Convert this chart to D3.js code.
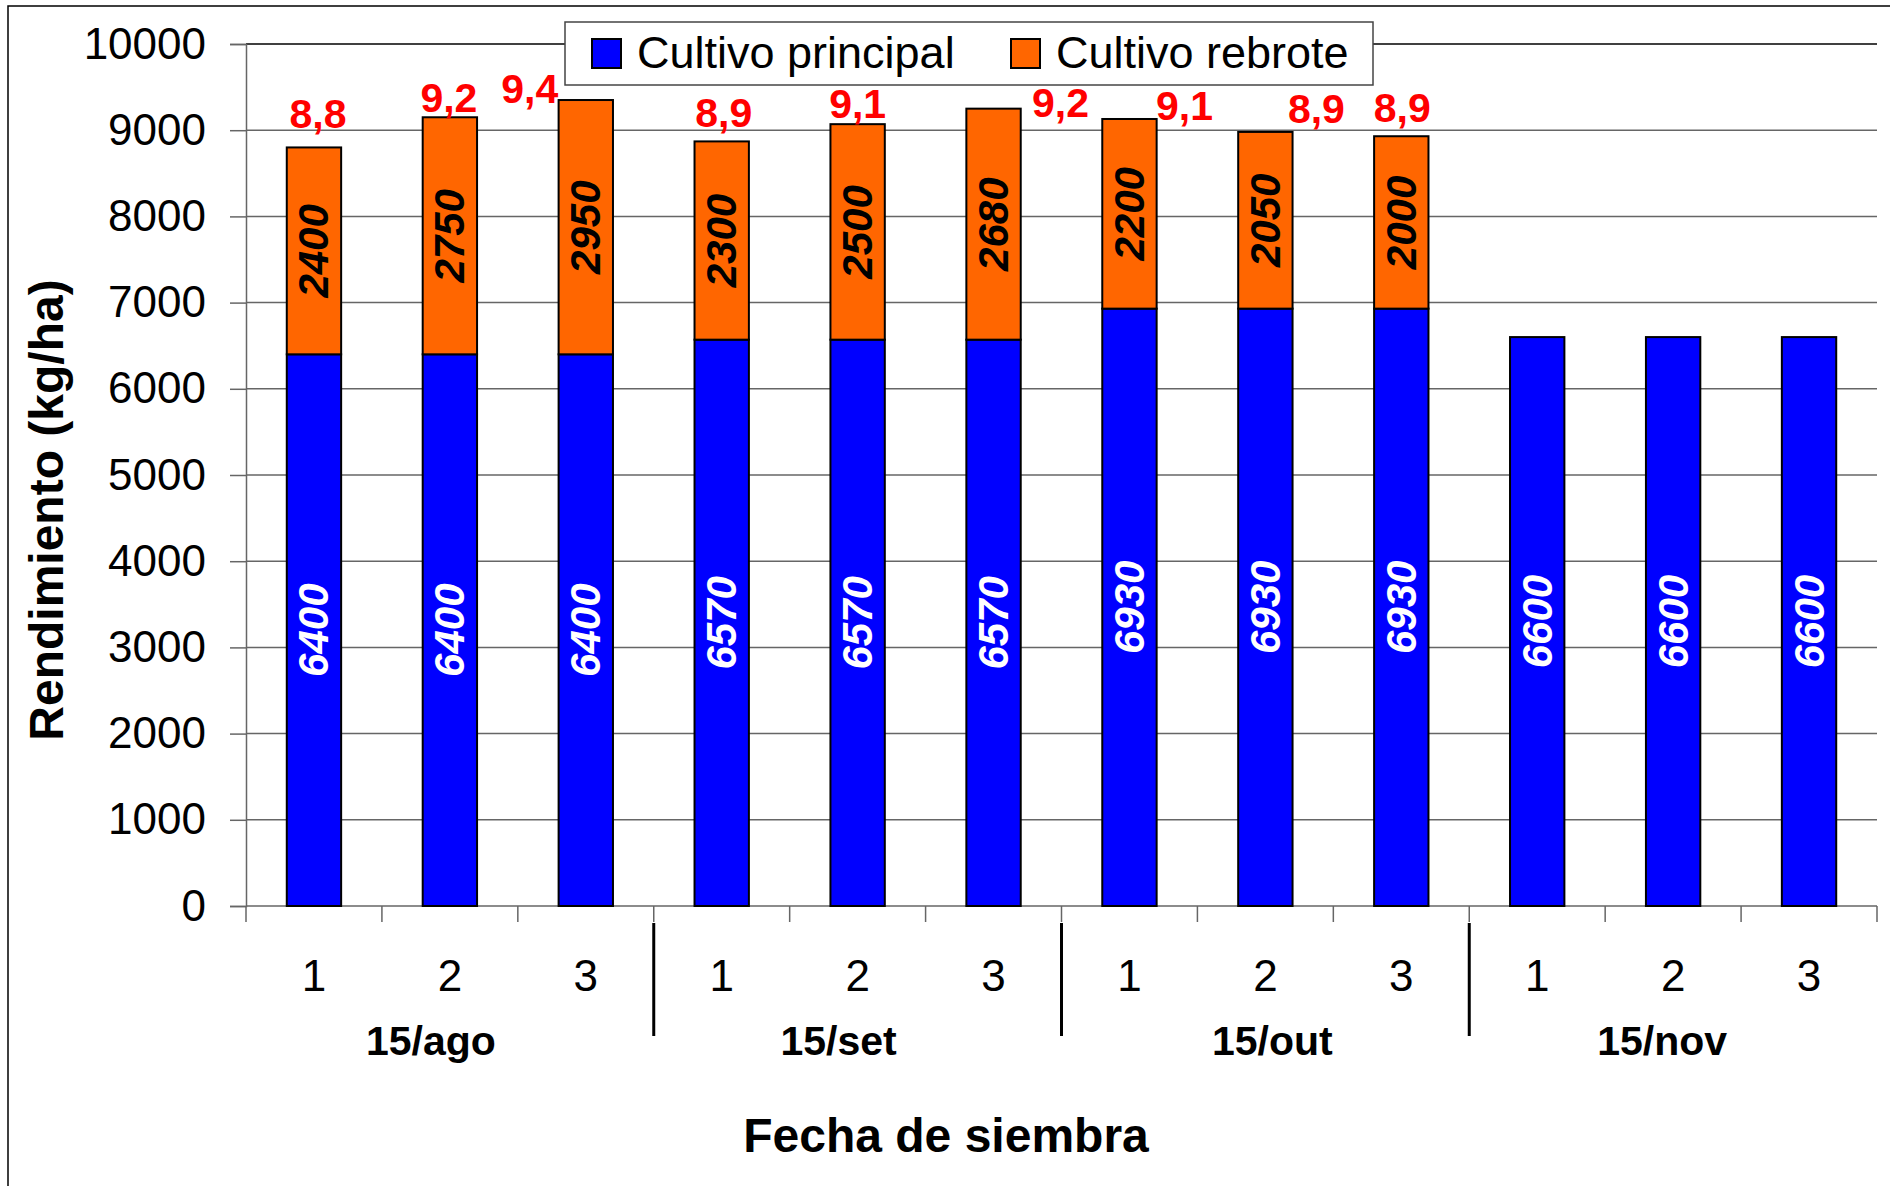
<!DOCTYPE html>
<html>
<head>
<meta charset="utf-8">
<script src="https://cdn.jsdelivr.net/npm/d3@7"></script>
<style>
  body { margin: 0; background: white; }
  text { font-family: "Liberation Sans", Arial, sans-serif; }
</style>
</head>
<body>
<div id="chart"></div>
<script>

// data
var fechas = ["15/ago", "15/set", "15/out", "15/nov"];
var cortes = ["1", "2", "3"];
var principal = [6400, 6400, 6400, 6570, 6570, 6570, 6930, 6930, 6930, 6600, 6600, 6600];
var rebrote = [2400, 2750, 2950, 2300, 2500, 2680, 2200, 2050, 2000, 0, 0, 0];
var totalLabels = ["8,8", "9,2", "9,4", "8,9", "9,1", "9,2", "9,1", "8,9", "8,9"];
var yTicks = [0, 1000, 2000, 3000, 4000, 5000, 6000, 7000, 8000, 9000, 10000];

// hand placed label offsets (px) from bar center / bar top
var labelShift = [[4, -19], [-1, -5], [-56, 3], [2, -14], [0, -6], [67, 8], [55, 1], [51, -9], [1, -14]];
// group labels are not exactly centered in the original
var groupShift = [-19, -19, 7, -11];

var W = 1890, H = 1186;
var left = 246, right = 1877, top0 = 44, bottom0 = 906;

var svg = d3.select("#chart")
  .append("svg")
  .attr("width", W)
  .attr("height", H);

// chart area border (only top and left visible)
svg.append("rect")
  .attr("x", 8).attr("y", 6)
  .attr("width", W + 20).attr("height", H + 20)
  .attr("fill", "white")
  .attr("stroke", "black")
  .attr("stroke-width", 1.5);

var idx = d3.range(principal.length);

var x = d3.scaleBand()
  .domain(idx)
  .range([left, right]);

var y = d3.scaleLinear()
  .domain([0, 10000])
  .range([bottom0, top0]);

var bw = x.bandwidth() * 0.4;

// gridlines
svg.append("g")
  .selectAll("line")
  .data(yTicks)
  .enter()
  .append("line")
  .attr("x1", left)
  .attr("x2", right)
  .attr("y1", d => y(d))
  .attr("y2", d => y(d))
  .attr("stroke", d => d == 10000 ? "black" : "#666")
  .attr("stroke-width", 1.5);

// y axis
var yAxis = svg.append("g")
  .attr("transform", "translate(" + left + ",0)")
  .call(d3.axisLeft(y).tickValues(yTicks).tickSize(16).tickPadding(24).tickFormat(d3.format("d")));
yAxis.select(".domain").attr("stroke", "#666").attr("stroke-width", 1.5);
yAxis.selectAll(".tick line").attr("stroke", "#666").attr("stroke-width", 1.5);
yAxis.selectAll("text")
  .attr("font-size", 44)
  .attr("fill", "black")
  .style("font-family", "'Liberation Sans', Arial, sans-serif");

// x ticks at category boundaries
var bounds = d3.range(principal.length + 1);
svg.append("g")
  .selectAll("line")
  .data(bounds)
  .enter()
  .append("line")
  .attr("x1", d => left + d * x.step())
  .attr("x2", d => left + d * x.step())
  .attr("y1", bottom0)
  .attr("y2", bottom0 + 16)
  .attr("stroke", "#666")
  .attr("stroke-width", 1.5);

// group separators
svg.append("g")
  .selectAll("line")
  .data([3, 6, 9])
  .enter()
  .append("line")
  .attr("x1", d => left + d * x.step())
  .attr("x2", d => left + d * x.step())
  .attr("y1", bottom0 + 17)
  .attr("y2", bottom0 + 130)
  .attr("stroke", "black")
  .attr("stroke-width", 3);

// stacked bars
var bars = svg.append("g");

bars.selectAll(".principal")
  .data(idx)
  .enter()
  .append("rect")
  .attr("class", "principal")
  .attr("x", i => x(i) + (x.bandwidth() - bw) / 2)
  .attr("y", i => y(principal[i]))
  .attr("width", bw)
  .attr("height", i => y(0) - y(principal[i]))
  .attr("fill", "#0000ff")
  .attr("stroke", "black")
  .attr("stroke-width", 2);

var withRebrote = idx.filter(i => rebrote[i] > 0);

bars.selectAll(".rebrote")
  .data(withRebrote)
  .enter()
  .append("rect")
  .attr("class", "rebrote")
  .attr("x", i => x(i) + (x.bandwidth() - bw) / 2)
  .attr("y", i => y(principal[i] + rebrote[i]))
  .attr("width", bw)
  .attr("height", i => y(principal[i]) - y(principal[i] + rebrote[i]))
  .attr("fill", "#ff6600")
  .attr("stroke", "black")
  .attr("stroke-width", 2);

// values inside bars, rotated
svg.append("g")
  .selectAll("text")
  .data(idx)
  .enter()
  .append("text")
  .attr("transform", i => "translate(" + (x(i) + x.bandwidth() / 2) + "," + y(principal[i] / 2) + ") rotate(-90)")
  .attr("text-anchor", "middle")
  .attr("dominant-baseline", "central")
  .attr("font-size", 42)
  .attr("font-weight", "bold")
  .attr("font-style", "italic")
  .attr("fill", "white")
  .text(i => principal[i]);

svg.append("g")
  .selectAll("text")
  .data(withRebrote)
  .enter()
  .append("text")
  .attr("transform", i => "translate(" + (x(i) + x.bandwidth() / 2) + "," + y(principal[i] + rebrote[i] / 2) + ") rotate(-90)")
  .attr("text-anchor", "middle")
  .attr("dominant-baseline", "central")
  .attr("font-size", 42)
  .attr("font-weight", "bold")
  .attr("font-style", "italic")
  .attr("fill", "black")
  .text(i => rebrote[i]);

// red total labels (t/ha)
svg.append("g")
  .selectAll("text")
  .data(withRebrote)
  .enter()
  .append("text")
  .attr("x", i => x(i) + x.bandwidth() / 2 + labelShift[i][0])
  .attr("y", i => y(principal[i] + rebrote[i]) + labelShift[i][1])
  .attr("text-anchor", "middle")
  .attr("font-size", 41)
  .attr("font-weight", "bold")
  .attr("fill", "red")
  .text(i => totalLabels[i]);

// category labels 1 2 3
svg.append("g")
  .selectAll("text")
  .data(idx)
  .enter()
  .append("text")
  .attr("x", i => x(i) + x.bandwidth() / 2)
  .attr("y", 991)
  .attr("text-anchor", "middle")
  .attr("font-size", 44)
  .text(i => cortes[i % 3]);

// group labels
svg.append("g")
  .selectAll("text")
  .data(fechas)
  .enter()
  .append("text")
  .attr("x", (d, g) => left + (g * 3 + 1.5) * x.step() + groupShift[g])
  .attr("y", 1055)
  .attr("text-anchor", "middle")
  .attr("font-size", 41)
  .attr("font-weight", "bold")
  .text(d => d);

// axis titles
svg.append("text")
  .attr("x", 946)
  .attr("y", 1152)
  .attr("text-anchor", "middle")
  .attr("font-size", 48)
  .attr("font-weight", "bold")
  .text("Fecha de siembra");

svg.append("text")
  .attr("transform", "translate(63,510) rotate(-90)")
  .attr("text-anchor", "middle")
  .attr("font-size", 48)
  .attr("font-weight", "bold")
  .text("Rendimiento (kg/ha)");

// legend
var legend = svg.append("g");
legend.append("rect")
  .attr("x", 565).attr("y", 22)
  .attr("width", 808).attr("height", 63)
  .attr("fill", "white")
  .attr("stroke", "#444")
  .attr("stroke-width", 1.5);

var legItems = [
  {name: "Cultivo principal", color: "#0000ff", x: 592},
  {name: "Cultivo rebrote", color: "#ff6600", x: 1011}
];

legend.selectAll(".sw")
  .data(legItems)
  .enter()
  .append("rect")
  .attr("class", "sw")
  .attr("x", d => d.x).attr("y", 39)
  .attr("width", 29).attr("height", 29)
  .attr("fill", d => d.color)
  .attr("stroke", "black")
  .attr("stroke-width", 2);

legend.selectAll(".lt")
  .data(legItems)
  .enter()
  .append("text")
  .attr("class", "lt")
  .attr("x", d => d.x + 45)
  .attr("y", 68)
  .attr("font-size", 45)
  .text(d => d.name);

</script>
</body>
</html>
